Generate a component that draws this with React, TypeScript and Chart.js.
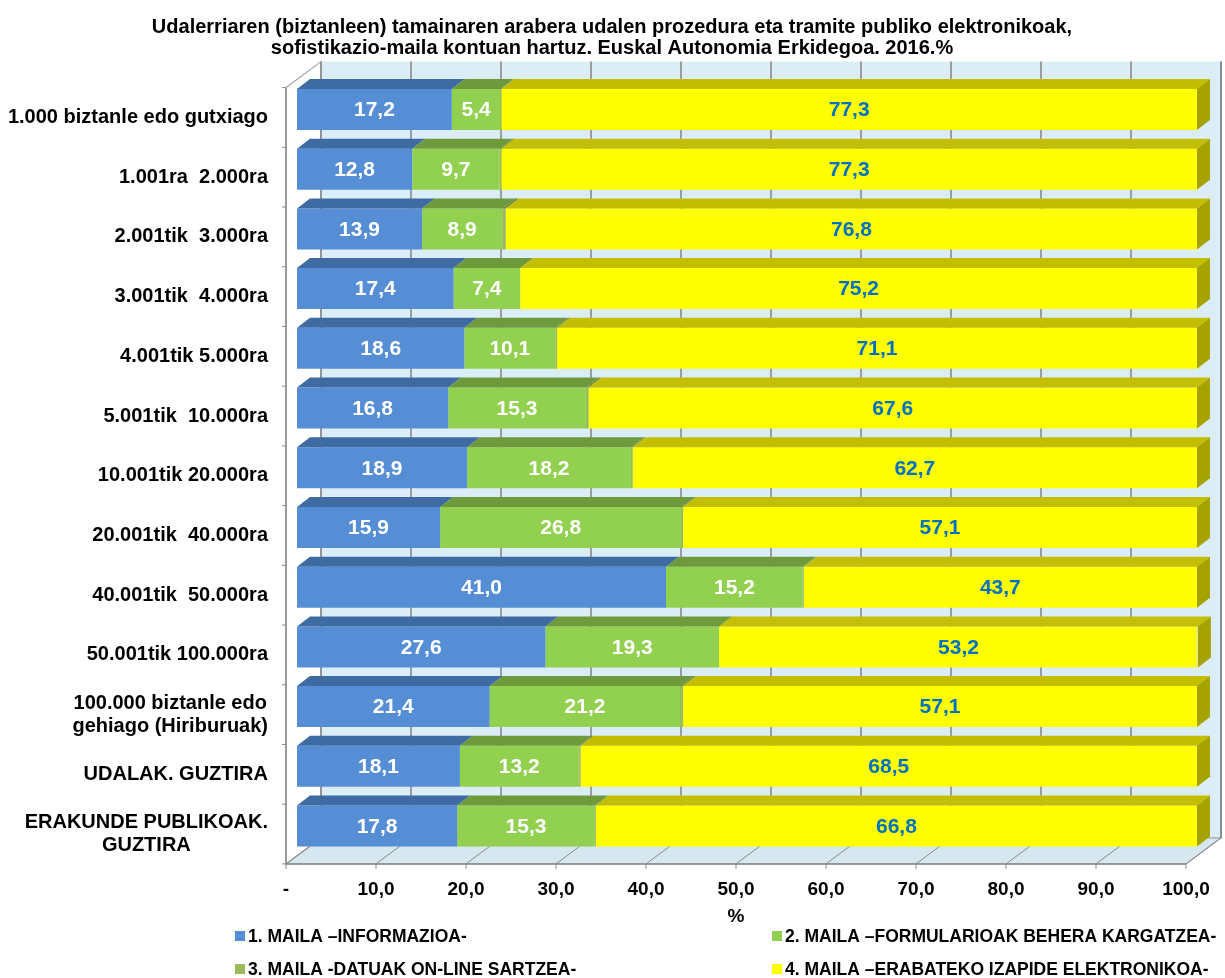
import React, { useEffect, useRef } from "react";
import { Chart, registerables } from "chart.js";

Chart.register(...registerables);

const titleLines = [
  "Udalerriaren (biztanleen) tamainaren arabera udalen prozedura eta tramite publiko elektronikoak,",
  "sofistikazio-maila kontuan hartuz. Euskal Autonomia Erkidegoa. 2016.%",
];

const categories: (string | string[])[] = [
  "1.000 biztanle edo gutxiago",
  "1.001ra  2.000ra",
  "2.001tik  3.000ra",
  "3.001tik  4.000ra",
  "4.001tik 5.000ra",
  "5.001tik  10.000ra",
  "10.001tik 20.000ra",
  "20.001tik  40.000ra",
  "40.001tik  50.000ra",
  "50.001tik 100.000ra",
  ["100.000 biztanle edo", "gehiago (Hiriburuak)"],
  "UDALAK. GUZTIRA",
  ["ERAKUNDE PUBLIKOAK.", "GUZTIRA"],
];

const maila1 = [17.2, 12.8, 13.9, 17.4, 18.6, 16.8, 18.9, 15.9, 41.0, 27.6, 21.4, 18.1, 17.8];
const maila2 = [5.4, 9.7, 8.9, 7.4, 10.1, 15.3, 18.2, 26.8, 15.2, 19.3, 21.2, 13.2, 15.3];
const maila3 = [0.1, 0.2, 0.4, 0.0, 0.2, 0.3, 0.2, 0.2, 0.1, 0.0, 0.3, 0.2, 0.1];
const maila4 = [77.3, 77.3, 76.8, 75.2, 71.1, 67.6, 62.7, 57.1, 43.7, 53.2, 57.1, 68.5, 66.8];

const seriesNames = [
  "1. MAILA \u2013INFORMAZIOA-",
  "2. MAILA \u2013FORMULARIOAK BEHERA KARGATZEA-",
  "3. MAILA -DATUAK ON-LINE SARTZEA-",
  "4. MAILA \u2013ERABATEKO IZAPIDE ELEKTRONIKOA-",
];

const tickValues = [0, 10, 20, 30, 40, 50, 60, 70, 80, 90, 100];
const tickLabels = ["-", "10,0", "20,0", "30,0", "40,0", "50,0", "60,0", "70,0", "80,0", "90,0", "100,0"];
const axisTitle = "%";

const FRONT_COLORS = ["#558ED5", "#92D050", "#9BBB59", "#FFFF00"];
const TOP_COLORS = ["#3F6BA3", "#6E9A3C", "#728B41", "#C3BE00"];
const SIDE_COLOR = "#A6A200";
const LABEL_COLORS = ["#FFFFFF", "#FFFFFF", "#FFFFFF", "#0070C0"];

const FONT = "'Liberation Sans', Arial, sans-serif";

// 3D projection offsets (styling)
const BACK = { dx: 24, dy: -18 };
const FRONT = { dx: -11, dy: 8 };
const BAR = { dx: 13, dy: -10 };

const fmt = (v: number) => v.toFixed(1).replace(".", ",");

const threeD = {
  id: "threeD",
  beforeDatasetsDraw(chart: any) {
    const ctx = chart.ctx as CanvasRenderingContext2D;
    const { top, bottom } = chart.chartArea;
    const xs = chart.scales.x;
    const x0 = xs.getPixelForValue(0);
    const x1 = xs.getPixelForValue(100);
    ctx.save();
    ctx.fillStyle = "#DBEEF8";
    ctx.fillRect(x0 + BACK.dx, top + BACK.dy, x1 - x0, bottom - top);
    ctx.beginPath();
    ctx.moveTo(x0 + FRONT.dx, bottom + FRONT.dy);
    ctx.lineTo(x1 + FRONT.dx, bottom + FRONT.dy);
    ctx.lineTo(x1 + BACK.dx, bottom + BACK.dy);
    ctx.lineTo(x0 + BACK.dx, bottom + BACK.dy);
    ctx.closePath();
    ctx.fillStyle = "#D5E7EF";
    ctx.fill();
    ctx.strokeStyle = "#A6A6A6";
    ctx.lineWidth = 1.2;
    ctx.stroke();
    ctx.beginPath();
    ctx.moveTo(x0 + FRONT.dx, top + FRONT.dy);
    ctx.lineTo(x0 + BACK.dx, top + BACK.dy);
    ctx.lineTo(x0 + BACK.dx, bottom + BACK.dy);
    ctx.lineTo(x0 + FRONT.dx, bottom + FRONT.dy);
    ctx.closePath();
    ctx.fillStyle = "#FFFFFF";
    ctx.fill();
    ctx.strokeStyle = "#A6A6A6";
    ctx.stroke();
    ctx.beginPath();
    ctx.moveTo(x1 + BACK.dx, top + BACK.dy);
    ctx.lineTo(x1 + BACK.dx, bottom + BACK.dy);
    ctx.strokeStyle = "#A0A0A0";
    ctx.lineWidth = 2;
    ctx.stroke();
    ctx.strokeStyle = "#8A8A8A";
    tickValues.forEach((v) => {
      const px = xs.getPixelForValue(v);
      ctx.lineWidth = 1.6;
      ctx.beginPath();
      ctx.moveTo(px + BACK.dx, top + BACK.dy);
      ctx.lineTo(px + BACK.dx, bottom + BACK.dy);
      ctx.stroke();
      ctx.lineWidth = 1;
      ctx.beginPath();
      ctx.moveTo(px + FRONT.dx, bottom + FRONT.dy);
      ctx.lineTo(px + BACK.dx, bottom + BACK.dy);
      ctx.stroke();
      ctx.beginPath();
      ctx.moveTo(px + FRONT.dx, bottom + FRONT.dy);
      ctx.lineTo(px + FRONT.dx, bottom + FRONT.dy + 5);
      ctx.stroke();
    });
    ctx.strokeStyle = "#8A8A8A";
    ctx.lineWidth = 1.5;
    ctx.beginPath();
    ctx.moveTo(x0 + FRONT.dx, top + FRONT.dy);
    ctx.lineTo(x0 + FRONT.dx, bottom + FRONT.dy);
    ctx.stroke();
    ctx.beginPath();
    ctx.moveTo(x0 + FRONT.dx, bottom + FRONT.dy);
    ctx.lineTo(x1 + FRONT.dx, bottom + FRONT.dy);
    ctx.stroke();
    const n = categories.length;
    const band = (bottom - top) / n;
    ctx.lineWidth = 1;
    for (let i = 0; i <= n; i++) {
      const y = top + band * i + FRONT.dy;
      ctx.beginPath();
      ctx.moveTo(x0 + FRONT.dx - 4, y);
      ctx.lineTo(x0 + FRONT.dx, y);
      ctx.stroke();
    }
    ctx.restore();
  },
  afterDatasetsDraw(chart: any) {
    const ctx = chart.ctx as CanvasRenderingContext2D;
    ctx.save();
    const metas = chart.data.datasets.map((_: any, i: number) => chart.getDatasetMeta(i));
    metas.forEach((meta: any, di: number) => {
      meta.data.forEach((el: any) => {
        const p = el.getProps(["x", "y", "base", "height"], true);
        const xa = Math.min(p.x, p.base);
        const xb = Math.max(p.x, p.base);
        if (xb - xa <= 0) return;
        const t = p.y - p.height / 2;
        ctx.beginPath();
        ctx.moveTo(xa, t);
        ctx.lineTo(xb, t);
        ctx.lineTo(xb + BAR.dx, t + BAR.dy);
        ctx.lineTo(xa + BAR.dx, t + BAR.dy);
        ctx.closePath();
        ctx.fillStyle = TOP_COLORS[di];
        ctx.fill();
      });
    });
    const last = metas[metas.length - 1];
    last.data.forEach((el: any) => {
      const p = el.getProps(["x", "y", "base", "height"], true);
      const t = p.y - p.height / 2;
      const b = p.y + p.height / 2;
      ctx.beginPath();
      ctx.moveTo(p.x, t);
      ctx.lineTo(p.x + BAR.dx, t + BAR.dy);
      ctx.lineTo(p.x + BAR.dx, b + BAR.dy);
      ctx.lineTo(p.x, b);
      ctx.closePath();
      ctx.fillStyle = SIDE_COLOR;
      ctx.fill();
    });
    ctx.font = `bold 21px ${FONT}`;
    ctx.textAlign = "center";
    ctx.textBaseline = "middle";
    metas.forEach((meta: any, di: number) => {
      if (di === 2) return;
      meta.data.forEach((el: any, i: number) => {
        const p = el.getProps(["x", "y", "base"], true);
        const v = chart.data.datasets[di].data[i];
        ctx.fillStyle = LABEL_COLORS[di];
        ctx.fillText(fmt(v), (p.x + p.base) / 2, p.y + 1);
      });
    });
    ctx.restore();
  },
  afterDraw(chart: any) {
    const ctx = chart.ctx as CanvasRenderingContext2D;
    const { bottom } = chart.chartArea;
    const xs = chart.scales.x;
    const ys = chart.scales.y;
    const x0 = xs.getPixelForValue(0);
    const x1 = xs.getPixelForValue(100);
    ctx.save();
    ctx.fillStyle = "#000000";
    ctx.font = `bold 20px ${FONT}`;
    ctx.textAlign = "center";
    ctx.textBaseline = "middle";
    ctx.fillText(titleLines[0], 612, 27);
    ctx.fillText(titleLines[1], 612, 48);
    ctx.font = `bold 20px ${FONT}`;
    const labelRight = x0 + FRONT.dx - 18;
    categories.forEach((c, i) => {
      const cy = ys.getPixelForValue(i) + FRONT.dy;
      const lines = Array.isArray(c) ? c : [c];
      const widths = lines.map((l) => ctx.measureText(l).width);
      const maxW = Math.max(...widths);
      const cx = labelRight - maxW / 2;
      const lh = 23;
      lines.forEach((l, j) => {
        ctx.textAlign = "center";
        ctx.fillText(l, cx, cy + (j - (lines.length - 1) / 2) * lh);
      });
    });
    ctx.font = `bold 19px ${FONT}`;
    ctx.textAlign = "center";
    tickValues.forEach((v, i) => {
      ctx.fillText(tickLabels[i], xs.getPixelForValue(v) + FRONT.dx, bottom + FRONT.dy + 26);
    });
    ctx.fillText(axisTitle, (x0 + x1) / 2 + FRONT.dx, bottom + FRONT.dy + 53);
    ctx.font = `bold 17.5px ${FONT}`;
    ctx.textAlign = "left";
    const legendPos = [
      [235, 936],
      [772, 936],
      [235, 969],
      [772, 969],
    ];
    seriesNames.forEach((name, i) => {
      const [lx, ly] = legendPos[i];
      ctx.fillStyle = FRONT_COLORS[i];
      ctx.fillRect(lx, ly - 5, 10, 10);
      ctx.fillStyle = "#000000";
      ctx.fillText(name, lx + 13, ly + 1);
    });
    ctx.restore();
  },
};

export default function App() {
  const ref = useRef<HTMLCanvasElement | null>(null);
  useEffect(() => {
    if (!ref.current) return;
    const series = [maila1, maila2, maila3, maila4];
    const chart = new Chart(ref.current, {
      type: "bar",
      data: {
        labels: categories.map((c) => (Array.isArray(c) ? c.join(" ") : c)),
        datasets: series.map((d, i) => ({
          label: seriesNames[i],
          data: d,
          backgroundColor: FRONT_COLORS[i],
          borderWidth: 0,
          categoryPercentage: 1,
          barPercentage: 0.687,
        })),
      },
      options: {
        indexAxis: "y",
        responsive: false,
        animation: false,
        devicePixelRatio: 1,
        layout: { padding: { left: 297, right: 28, top: 79.6, bottom: 122.1 } },
        scales: {
          x: { stacked: true, min: 0, max: 100, display: false },
          y: { stacked: true, display: false },
        },
        plugins: {
          legend: { display: false },
          title: { display: false },
          tooltip: { enabled: false },
        },
      },
      plugins: [threeD],
    });
    return () => chart.destroy();
  }, []);
  return (
    <div style={{ position: "absolute", left: 0, top: 0, width: 1225, height: 978 }}>
      <canvas ref={ref} width={1225} height={978} style={{ display: "block" }} />
    </div>
  );
}
